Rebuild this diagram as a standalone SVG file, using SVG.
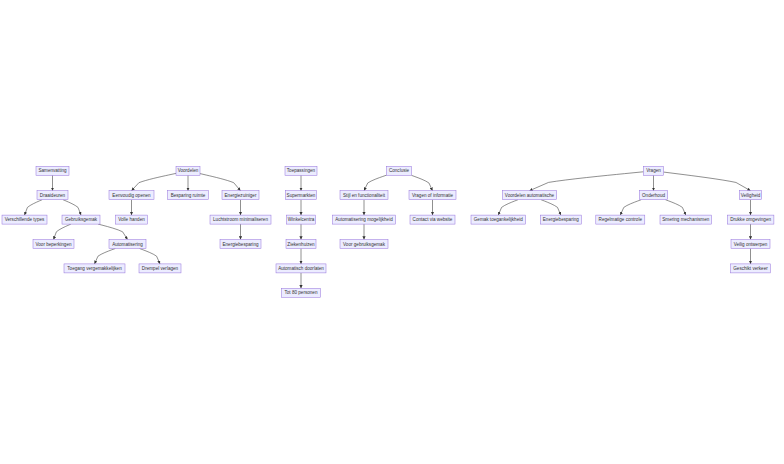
<svg xmlns="http://www.w3.org/2000/svg" width="784" height="464" viewBox="0 0 784 464">
<style>
.node rect{fill:#ECECFF;stroke:#9370DB;stroke-width:0.5}
.node text{font-family:"Liberation Sans",Arial,sans-serif;font-size:4.6px;fill:#333333;text-anchor:middle;dominant-baseline:central}
.edges path{fill:none;stroke:#333333;stroke-width:0.55;marker-end:url(#arr)}
</style>
<defs>
<marker id="arr" viewBox="0 0 10 10" refX="10" refY="5" markerUnits="userSpaceOnUse" markerWidth="3.2" markerHeight="3.2" orient="auto">
<path d="M0,0 L10,5 L0,10 z" fill="#333333"/>
</marker>
</defs>
<rect width="784" height="464" fill="#ffffff"/>
<g class="edges">
<path d="M52.5,175.3 L52.5,190.7"/>
<path d="M42.17,199.7 L39.23,200.98 C36.28,202.27 30.39,204.83 27.45,207.4 L24.5,215.1"/>
<path d="M63.01,199.7 L66.01,200.98 C69.01,202.27 75,204.83 78,207.4 L81,215.1"/>
<path d="M70.86,224.1 L67.97,225.38 C65.07,226.67 59.29,229.23 56.39,231.8 L53.5,239.5"/>
<path d="M98.15,224.1 L103.04,225.38 C107.93,226.67 117.72,229.23 122.61,231.8 L127.5,239.5"/>
<path d="M115.33,248.5 L111.86,249.78 C108.39,251.07 101.44,253.63 97.97,256.2 L94.5,263.9"/>
<path d="M139.49,248.5 L142.91,249.78 C146.33,251.07 153.16,253.63 156.58,256.2 L160,263.9"/>
<path d="M176,173.39 L168.58,174.99 C161.17,176.59 146.33,179.8 138.92,182.68 L131.5,190.7"/>
<path d="M188,175.3 L188,190.7"/>
<path d="M200,173.59 L206.75,175.16 C213.5,176.73 227,179.86 233.75,182.72 L240.5,190.7"/>
<path d="M131.5,199.7 L131.5,215.1"/>
<path d="M240.5,199.7 L240.5,215.1"/>
<path d="M240.5,224.1 L240.5,239.5"/>
<path d="M301,175.3 L301,190.7"/>
<path d="M301,199.7 L301,215.1"/>
<path d="M301,224.1 L301,239.5"/>
<path d="M301,248.5 L301,263.9"/>
<path d="M301,272.9 L301,288.3"/>
<path d="M386.5,175.16 L382.75,176.47 C379,177.77 371.5,180.39 367.75,182.98 L364,190.7"/>
<path d="M411.36,175.3 L414.88,176.58 C418.41,177.87 425.45,180.43 428.98,183 L432.5,190.7"/>
<path d="M364,199.7 L364,215.1"/>
<path d="M432.5,199.7 L432.5,215.1"/>
<path d="M364,224.1 L364,239.5"/>
<path d="M643.5,171.78 L624.5,173.65 C605.5,175.52 567.5,179.26 548.5,182.41 L529.5,190.7"/>
<path d="M653.5,175.3 L653.5,190.7"/>
<path d="M663.5,172.06 L678,173.88 C692.5,175.71 721.5,179.35 736,182.46 L750.5,190.7"/>
<path d="M517.99,199.7 L514.71,200.98 C511.43,202.27 504.86,204.83 501.58,207.4 L498.3,215.1"/>
<path d="M541.05,199.7 L544.34,200.98 C547.63,202.27 554.22,204.83 557.51,207.4 L560.8,215.1"/>
<path d="M641.25,199.7 L637.76,200.98 C634.27,202.27 627.28,204.83 623.79,207.4 L620.3,215.1"/>
<path d="M665.42,199.7 L668.82,200.98 C672.21,202.27 679.01,204.83 682.4,207.4 L685.8,215.1"/>
<path d="M750.5,199.7 L750.5,215.1"/>
<path d="M750.5,224.1 L750.5,239.5"/>
<path d="M750.5,248.5 L750.5,263.9"/>
</g>
<g id="samenvatting" class="node"><rect x="36" y="166.3" width="33" height="9"/><text x="52.5" y="170.8">Samenvatting</text></g>
<g id="draaideuren" class="node"><rect x="37" y="190.7" width="31" height="9"/><text x="52.5" y="195.2">Draaideuren</text></g>
<g id="verschillende-types" class="node"><rect x="2" y="215.1" width="45" height="9"/><text x="24.5" y="219.6">Verschillende types</text></g>
<g id="gebruiksgemak" class="node"><rect x="62" y="215.1" width="38" height="9"/><text x="81" y="219.6">Gebruiksgemak</text></g>
<g id="voor-beperkingen" class="node"><rect x="33" y="239.5" width="41" height="9"/><text x="53.5" y="244">Voor beperkingen</text></g>
<g id="automatisering" class="node"><rect x="109" y="239.5" width="37" height="9"/><text x="127.5" y="244">Automatisering</text></g>
<g id="toegang" class="node"><rect x="64" y="263.9" width="61" height="9"/><text x="94.5" y="268.4">Toegang vergemakkelijken</text></g>
<g id="drempel" class="node"><rect x="139" y="263.9" width="42" height="9"/><text x="160" y="268.4">Drempel verlagen</text></g>
<g id="voordelen" class="node"><rect x="176" y="166.3" width="24" height="9"/><text x="188" y="170.8">Voordelen</text></g>
<g id="eenvoudig-openen" class="node"><rect x="109" y="190.7" width="45" height="9"/><text x="131.5" y="195.2">Eenvoudig openen</text></g>
<g id="besparing-ruimte" class="node"><rect x="167.5" y="190.7" width="41" height="9"/><text x="188" y="195.2">Besparing ruimte</text></g>
<g id="energiezuiniger" class="node"><rect x="222" y="190.7" width="37" height="9"/><text x="240.5" y="195.2">Energiezuiniger</text></g>
<g id="volle-handen" class="node"><rect x="115.5" y="215.1" width="32" height="9"/><text x="131.5" y="219.6">Volle handen</text></g>
<g id="luchtstroom" class="node"><rect x="210" y="215.1" width="61" height="9"/><text x="240.5" y="219.6">Luchtstroom minimaliseren</text></g>
<g id="energiebesparing-1" class="node"><rect x="220" y="239.5" width="41" height="9"/><text x="240.5" y="244">Energiebesparing</text></g>
<g id="toepassingen" class="node"><rect x="285" y="166.3" width="32" height="9"/><text x="301" y="170.8">Toepassingen</text></g>
<g id="supermarkten" class="node"><rect x="285.5" y="190.7" width="31" height="9"/><text x="301" y="195.2">Supermarkten</text></g>
<g id="winkelcentra" class="node"><rect x="286.5" y="215.1" width="29" height="9"/><text x="301" y="219.6">Winkelcentra</text></g>
<g id="ziekenhuizen" class="node"><rect x="286" y="239.5" width="30" height="9"/><text x="301" y="244">Ziekenhuizen</text></g>
<g id="automatisch-doorlaten" class="node"><rect x="276" y="263.9" width="50" height="9"/><text x="301" y="268.4">Automatisch doorlaten</text></g>
<g id="tot-80" class="node"><rect x="281.5" y="288.3" width="39" height="9"/><text x="301" y="292.8">Tot 80 personen</text></g>
<g id="conclusie" class="node"><rect x="386.5" y="166.3" width="25" height="9"/><text x="399" y="170.8">Conclusie</text></g>
<g id="stijl" class="node"><rect x="340" y="190.7" width="48" height="9"/><text x="364" y="195.2">Stijl en functionaliteit</text></g>
<g id="vragen-informatie" class="node"><rect x="409" y="190.7" width="47" height="9"/><text x="432.5" y="195.2">Vragen of informatie</text></g>
<g id="automatisering-mogelijkheid" class="node"><rect x="332.5" y="215.1" width="63" height="9"/><text x="364" y="219.6">Automatisering mogelijkheid</text></g>
<g id="contact" class="node"><rect x="410" y="215.1" width="45" height="9"/><text x="432.5" y="219.6">Contact via website</text></g>
<g id="voor-gebruiksgemak" class="node"><rect x="340" y="239.5" width="48" height="9"/><text x="364" y="244">Voor gebruiksgemak</text></g>
<g id="vragen" class="node"><rect x="643.5" y="166.3" width="20" height="9"/><text x="653.5" y="170.8">Vragen</text></g>
<g id="voordelen-automatische" class="node"><rect x="502.3" y="190.7" width="54.4" height="9"/><text x="529.5" y="195.2">Voordelen automatische</text></g>
<g id="onderhoud" class="node"><rect x="639.3" y="190.7" width="28.4" height="9"/><text x="653.5" y="195.2">Onderhoud</text></g>
<g id="veiligheid" class="node"><rect x="739.3" y="190.7" width="22.4" height="9"/><text x="750.5" y="195.2">Veiligheid</text></g>
<g id="gemak" class="node"><rect x="471" y="215.1" width="54.6" height="9"/><text x="498.3" y="219.6">Gemak toegankelijkheid</text></g>
<g id="energiebesparing-2" class="node"><rect x="540.3" y="215.1" width="41" height="9"/><text x="560.8" y="219.6">Energiebesparing</text></g>
<g id="regelmatige" class="node"><rect x="595.8" y="215.1" width="49" height="9"/><text x="620.3" y="219.6">Regelmatige controle</text></g>
<g id="smering" class="node"><rect x="660" y="215.1" width="51.6" height="9"/><text x="685.8" y="219.6">Smering mechanismen</text></g>
<g id="drukke" class="node"><rect x="727.3" y="215.1" width="46.6" height="9"/><text x="750.6" y="219.6">Drukke omgevingen</text></g>
<g id="veilig-ontwerpen" class="node"><rect x="731" y="239.5" width="39" height="9"/><text x="750.5" y="244">Veilig ontwerpen</text></g>
<g id="geschikt-verkeer" class="node"><rect x="730.7" y="263.9" width="39.6" height="9"/><text x="750.5" y="268.4">Geschikt verkeer</text></g>
</svg>
